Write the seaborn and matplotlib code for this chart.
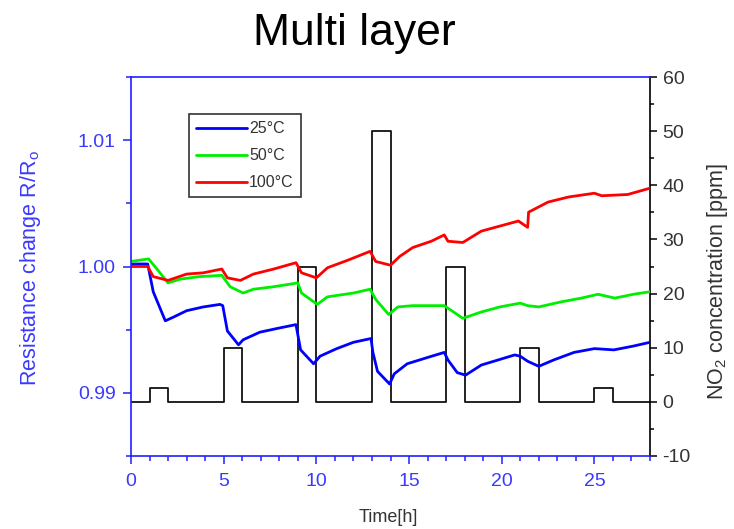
import numpy as np
import pandas as pd
import matplotlib
matplotlib.use("Agg")
import matplotlib.pyplot as plt
import seaborn as sns
from matplotlib.ticker import MultipleLocator
from matplotlib.lines import Line2D

# ---------------- data ----------------
t_25 = [0, 0.9, 1.2, 1.85, 2.3, 3.0, 3.9, 4.8, 4.95, 5.2, 5.8, 6.05, 6.95, 7.9, 8.9,
        9.15, 9.85, 10.2, 11.1, 12.0, 12.95, 13.05, 13.3, 13.95, 14.2, 14.9, 16.0,
        16.9, 17.1, 17.6, 18.05, 18.9, 19.8, 20.7, 21.0, 21.4, 22.0, 22.8, 23.9,
        25.0, 26.05, 27.1, 28.0]
r_25 = [1.0002, 1.0002, 0.9980, 0.9957, 0.9960, 0.9965, 0.9968, 0.9970, 0.9969,
        0.9949, 0.9938, 0.9942, 0.9948, 0.9951, 0.9954, 0.9934, 0.9923, 0.9929,
        0.9935, 0.9940, 0.9943, 0.9932, 0.9917, 0.9907, 0.9915, 0.9923, 0.9928,
        0.9932, 0.9926, 0.9916, 0.9914, 0.9922, 0.9926, 0.9930, 0.9929, 0.9925,
        0.9921, 0.9926, 0.9932, 0.9935, 0.9934, 0.9937, 0.9940]

t_50 = [0, 0.95, 1.4, 2.0, 2.65, 3.7, 4.9, 5.35, 6.05, 6.6, 7.7, 9.0, 9.2, 10.05,
        10.6, 12.0, 12.9, 13.2, 13.9, 14.4, 15.2, 16.9, 17.2, 17.9, 18.9, 19.9,
        21.0, 21.4, 22.0, 23.2, 24.3, 25.2, 26.1, 27.1, 28.0]
r_50 = [1.0004, 1.0006, 0.9998, 0.9987, 0.9990, 0.9992, 0.9993, 0.9984, 0.9979,
        0.9982, 0.9984, 0.9987, 0.9979, 0.9970, 0.9976, 0.9979, 0.9982, 0.9974,
        0.9962, 0.9968, 0.9969, 0.9969, 0.9966, 0.9959, 0.9964, 0.9968, 0.9971,
        0.9969, 0.9968, 0.9972, 0.9975, 0.9978, 0.9975, 0.9978, 0.9980]

t_100 = [0, 0.9, 1.2, 2.0, 3.0, 3.9, 4.9, 5.2, 5.9, 6.6, 7.7, 8.9, 9.2, 10.0, 10.6,
         11.7, 12.9, 13.2, 14.0, 14.5, 15.2, 16.2, 16.9, 17.1, 17.9, 18.9, 19.9,
         20.9, 21.4, 21.45, 22.5, 23.6, 25.0, 25.4, 26.8, 28.0]
r_100 = [1.0000, 1.0000, 0.9992, 0.9989, 0.9994, 0.9995, 0.9998, 0.9991, 0.9989,
         0.9994, 0.9998, 1.0003, 0.9995, 0.9991, 0.9999, 1.0005, 1.0012, 1.0004,
         1.0001, 1.0008, 1.0015, 1.0020, 1.0025, 1.0020, 1.0019, 1.0028, 1.0032,
         1.0036, 1.0031, 1.0043, 1.0051, 1.0055, 1.0058, 1.0056, 1.0057, 1.0062]

series_labels = ["25°C", "50°C", "100°C"]
series_colors = ["#0000ff", "#00ee00", "#ff0000"]

gas_time = [0, 1, 2, 5, 6, 9, 10, 13, 14, 17, 18, 21, 22, 25, 26, 28]
gas_ppm = [0, 2.5, 0, 10, 0, 25, 0, 50, 0, 25, 0, 10, 0, 2.5, 0, 0]

title = "Multi layer"

# ---------------- styling ----------------
sns.set_theme(style="white")
plt.rcParams["font.family"] = ["Liberation Sans", "DejaVu Sans"]
plt.rcParams["mathtext.default"] = "regular"
plt.rcParams["axes.unicode_minus"] = False

BLUE_AX = "#2020ff"
BLUE_TXT = "#3a3aff"
DARK = "#333333"

df = pd.concat([
    pd.DataFrame({"Time": t_25, "R": r_25, "series": series_labels[0]}),
    pd.DataFrame({"Time": t_50, "R": r_50, "series": series_labels[1]}),
    pd.DataFrame({"Time": t_100, "R": r_100, "series": series_labels[2]}),
], ignore_index=True)
gas_df = pd.DataFrame({"Time": gas_time, "ppm": gas_ppm})

fig = plt.figure(figsize=(7.34, 5.29), dpi=100)
ax = fig.add_axes([131 / 734, 1 - 456 / 529, 519 / 734, 379 / 529])
ax2 = ax.twinx()

# gas concentration step (right axis)
sns.lineplot(data=gas_df, x="Time", y="ppm", ax=ax2, color="#111111",
             linewidth=1.3, drawstyle="steps-post", estimator=None, sort=False)

# resistance curves (left axis)
sns.lineplot(data=df, x="Time", y="R", hue="series", hue_order=series_labels,
             palette=series_colors, ax=ax, linewidth=2.0, estimator=None,
             legend=False)

ax.set_zorder(ax2.get_zorder() + 1)
ax.patch.set_visible(False)

ax.set_xlim(0, 28)
ax.set_ylim(0.985, 1.015)
ax2.set_ylim(-10, 60)

ax.xaxis.set_major_locator(MultipleLocator(5))
ax.xaxis.set_minor_locator(MultipleLocator(1))
ax.yaxis.set_major_locator(MultipleLocator(0.01))
ax.yaxis.set_minor_locator(MultipleLocator(0.005))
ax.yaxis.set_major_formatter(matplotlib.ticker.FormatStrFormatter("%.2f"))
ax2.yaxis.set_major_locator(MultipleLocator(10))
ax2.yaxis.set_minor_locator(MultipleLocator(5))

# spines
for s in ["left", "bottom", "top"]:
    ax.spines[s].set_color(BLUE_AX)
    ax.spines[s].set_linewidth(1.2)
ax.spines["right"].set_visible(False)
for s in ["left", "bottom", "top"]:
    ax2.spines[s].set_visible(False)
ax2.spines["right"].set_color("black")
ax2.spines["right"].set_linewidth(1.2)

ax.tick_params(axis="both", which="both", direction="out", colors=BLUE_AX,
               labelcolor=BLUE_TXT, labelsize=14, width=1.1)
ax.tick_params(axis="both", which="major", length=6, pad=5)
ax.tick_params(axis="both", which="minor", length=3.5)
ax.tick_params(axis="x", which="major", pad=6)
ax.tick_params(left=True, bottom=True, right=False, top=False, which="both")
ax2.tick_params(axis="y", which="both", direction="out", colors="black",
                labelcolor=DARK, labelsize=14, width=1.1)
ax2.tick_params(axis="y", which="major", length=5, pad=4)
ax2.tick_params(axis="y", which="minor", length=3)

ax.set_xlabel("Time[h]", fontsize=13, color=DARK)
ax.xaxis.set_label_coords(0.495, -0.14)
ax.set_ylabel("Resistance change R/R$_o$", fontsize=15.5, color=BLUE_TXT)
ax.yaxis.set_label_coords(-0.17, 0.496)
ax2.set_ylabel("NO$_2$ concentration [ppm]", fontsize=15.5, color=DARK)
ax2.yaxis.set_label_coords(1.106, 0.459)

ax.grid(False)
ax2.grid(False)

# legend
handles = [Line2D([0], [0], color=c, lw=2.0) for c in series_colors]
leg = ax.legend(handles, series_labels, loc="upper left",
                bbox_to_anchor=(0.112, 0.902), borderaxespad=0,
                fontsize=11.5, handlelength=3.2, handletextpad=0.1,
                labelspacing=0.75, frameon=True, fancybox=False,
                borderpad=0.45)
leg.get_frame().set_edgecolor("black")
leg.get_frame().set_linewidth(1.2)
for txt in leg.get_texts():
    txt.set_color(DARK)

fig.text(354 / 734, 1 - 45 / 529, title, fontsize=32, ha="center",
         va="baseline", color="black")

fig.savefig("out.png", dpi=100)
